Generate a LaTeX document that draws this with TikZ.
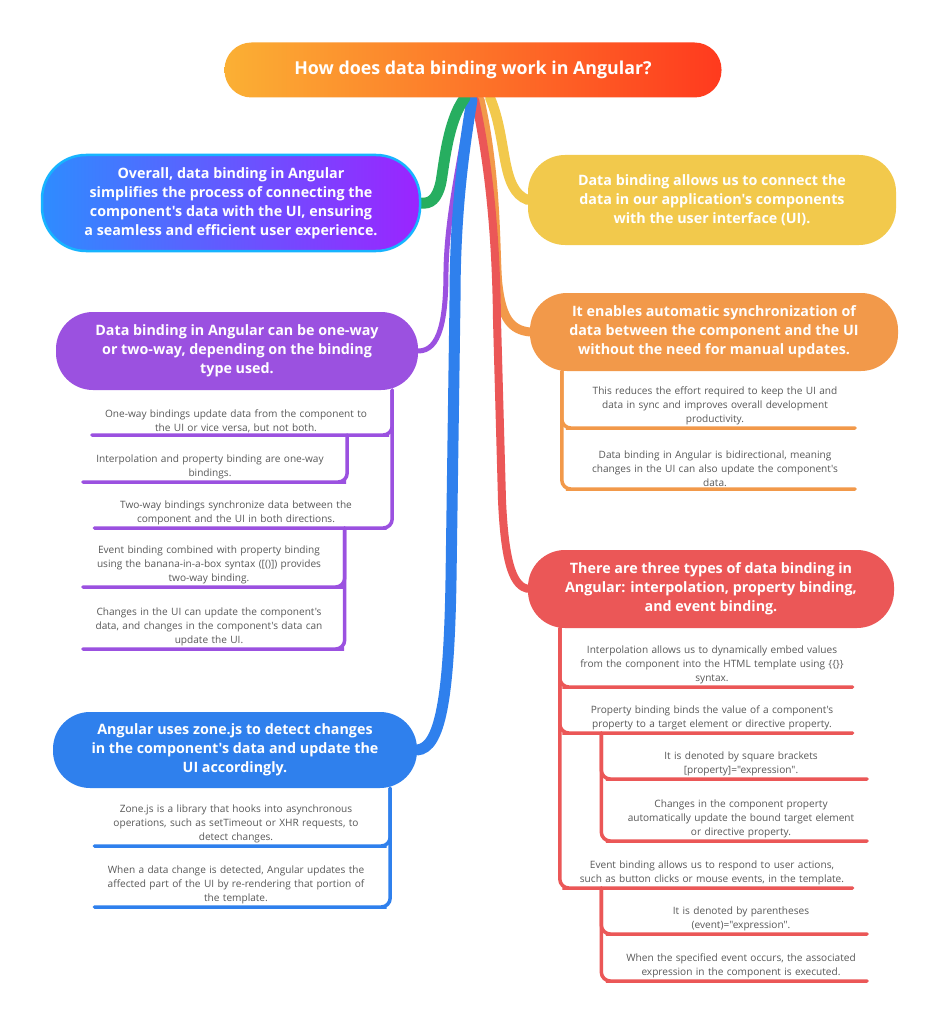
\documentclass[tikz,border=0pt]{standalone}
\usepackage{fontspec}
\setmainfont{Open Sans}[Ligatures=TeXOff]
\usetikzlibrary{calc,backgrounds}

\definecolor{topL}{HTML}{FBB034}
\definecolor{topR}{HTML}{FF3A1E}
\definecolor{sumL}{HTML}{2E8CFF}
\definecolor{sumR}{HTML}{9B24FF}
\definecolor{sumB}{HTML}{17B4FF}
\definecolor{brYellow}{HTML}{F2C94C}
\definecolor{brOrange}{HTML}{F2994A}
\definecolor{brRed}{HTML}{EB5757}
\definecolor{brPurple}{HTML}{9B51E0}
\definecolor{brBlue}{HTML}{2F80ED}
\definecolor{brGreen}{HTML}{27AE60}
\definecolor{leafgray}{HTML}{585858}

\tikzset{
  head/.style={rounded corners=37pt, minimum height=78pt, inner sep=0pt,
    align=center, text=white, font=\bfseries\fontsize{14.3}{19}\selectfont},
  leaf/.style={anchor=south, inner xsep=0pt, inner ysep=2.5pt, align=center,
    text=leafgray, font=\fontsize{10.1}{14}\selectfont},
  twig/.style={line width=3.5pt, rounded corners=9pt, line cap=round},
  branch/.style={line width=10pt, line cap=round},
}

\begin{document}
\begin{tikzpicture}[x=1pt,y=-1pt]
\useasboundingbox (0,0) rectangle (940,1024);

% root and main ideas
\node[head, minimum width=497, minimum height=55, rounded corners=27pt,
  left color=topL, right color=topR, font=\bfseries\fontsize{17.8}{19}\selectfont]
  (root) at (473,70) {How does data binding work in Angular?};
\node[head, minimum width=378, minimum height=96, rounded corners=44pt,
  left color=sumL, right color=sumR, draw=sumB, line width=2.5pt]
  (sum) at (231,203) {Overall, data binding in Angular\\simplifies the process of connecting the\\component's data with the UI, ensuring\\a seamless and efficient user experience.};
\node[head, fill=brYellow, minimum width=368, minimum height=90] (conn) at (712,200)
  {Data binding allows us to connect the\\data in our application's components\\with the user interface (UI).};
\node[head, fill=brOrange, minimum width=368] (sync) at (714,332)
  {It enables automatic synchronization of\\data between the component and the UI\\without the need for manual updates.};
\node[head, fill=brRed, minimum width=366] (types) at (711,589)
  {There are three types of data binding in\\Angular: interpolation, property binding,\\and event binding.};
\node[head, fill=brPurple, minimum width=362] (ways) at (237,351)
  {Data binding in Angular can be one-way\\or two-way, depending on the binding\\type used.};
\node[head, fill=brBlue, minimum width=364, minimum height=76] (zone) at (235,750)
  {Angular uses zone.js to detect changes\\in the component's data and update the\\UI accordingly.};

% leaves
\node[leaf, text width=280] (s1) at (715,428) {This reduces the effort required to keep the UI and\\data in sync and improves overall development\\productivity.};
\node[leaf, text width=280] (s2) at (715,489) {Data binding in Angular is bidirectional, meaning\\changes in the UI can also update the component's\\data.};

\node[leaf, text width=281] (t1) at (712,687) {Interpolation allows us to dynamically embed values\\from the component into the HTML template using \{\{\}\}\\syntax.};
\node[leaf, text width=281] (t2) at (712,733) {Property binding binds the value of a component's\\property to a target element or directive property.};
\node[leaf, text width=252] (t21) at (741,779) {It is denoted by square brackets\\{[}property{]}="expression".};
\node[leaf, text width=252] (t22) at (741,841) {Changes in the component property\\automatically update the bound target element\\or directive property.};
\node[leaf, text width=281] (t3) at (712,888) {Event binding allows us to respond to user actions,\\such as button clicks or mouse events, in the template.};
\node[leaf, text width=252] (t31) at (741,934) {It is denoted by parentheses\\(event)="expression".};
\node[leaf, text width=252] (t32) at (741,981) {When the specified event occurs, the associated\\expression in the component is executed.};

\node[leaf, text width=288] (w1) at (236,435) {One-way bindings update data from the component to\\the UI or vice versa, but not both.};
\node[leaf, text width=254] (w11) at (210,482) {Interpolation and property binding are one-way\\bindings.};
\node[leaf, text width=283] (w2) at (236,528) {Two-way bindings synchronize data between the\\component and the UI in both directions.};
\node[leaf, text width=252] (w21) at (209,587) {Event binding combined with property binding\\using the banana-in-a-box syntax ({[}(){]}) provides\\two-way binding.};
\node[leaf, text width=252] (w22) at (209,649) {Changes in the UI can update the component's\\data, and changes in the component's data can\\update the UI.};

\node[leaf, text width=283] (z1) at (236,846) {Zone.js is a library that hooks into asynchronous\\operations, such as setTimeout or XHR requests, to\\detect changes.};
\node[leaf, text width=283] (z2) at (236,907) {When a data change is detected, Angular updates the\\affected part of the UI by re-rendering that portion of\\the template.};

% trunk points
\coordinate (syncT) at ($(sync.south west)+(32,0)$);
\coordinate (typesT) at ($(types.south west)+(32,0)$);
\coordinate (t2T) at ($(t2.south west)+(30,0)$);
\coordinate (t3T) at ($(t3.south west)+(30,0)$);
\coordinate (waysT) at ($(ways.south east)+(-26,0)$);
\coordinate (w1T) at ($(w1.south east)+(-33,0)$);
\coordinate (w2T) at ($(w2.south east)+(-33,0)$);
\coordinate (zoneT) at ($(zone.south east)+(-27,0)$);

% twigs
\draw[twig, brOrange] (syncT) |- (s1.south west) -- (s1.south east);
\draw[twig, brOrange] (syncT) |- (s2.south west) -- (s2.south east);
\draw[twig, brRed] (typesT) |- (t1.south west) -- (t1.south east);
\draw[twig, brRed] (typesT) |- (t2.south west) -- (t2.south east);
\draw[twig, brRed] (typesT) |- (t3.south west) -- (t3.south east);
\draw[twig, brRed] (t2T) |- (t21.south west) -- (t21.south east);
\draw[twig, brRed] (t2T) |- (t22.south west) -- (t22.south east);
\draw[twig, brRed] (t3T) |- (t31.south west) -- (t31.south east);
\draw[twig, brRed] (t3T) |- (t32.south west) -- (t32.south east);
\draw[twig, brPurple] (waysT) |- (w1.south east) -- (w1.south west);
\draw[twig, brPurple] (waysT) |- (w2.south east) -- (w2.south west);
\draw[twig, brPurple] (w1T) |- (w11.south east) -- (w11.south west);
\draw[twig, brPurple] (w2T) |- (w21.south east) -- (w21.south west);
\draw[twig, brPurple] (w2T) |- (w22.south east) -- (w22.south west);
\draw[twig, brBlue] (zoneT) |- (z1.south east) -- (z1.south west);
\draw[twig, brBlue] (zoneT) |- (z2.south east) -- (z2.south west);

% branches from the root
\begin{scope}[on background layer]
\fill[white] (0,0) rectangle (940,1024);
\draw[branch, brPurple, line width=5pt] ($(root.south)+(-3,2)$)
  .. controls (458,170) and (447,220) .. (446,270)
  .. controls (446,320) and (440,351) .. (ways.east);
\draw[branch, brYellow] ($(root.south)+(17,0)$)
  .. controls (508,140) and (500,190) .. (conn.west);
\draw[branch, brOrange, line width=9pt] ($(root.south)+(7,2)$)
  .. controls (498,180) and (495,260) .. (498,285)
  .. controls (502,320) and (512,330) .. (sync.west);
\draw[branch, brRed, line width=8pt] ($(root.south)+(2,2)$)
  .. controls (488,160) and (496,230) .. (497,320)
  -- (502,500)
  .. controls (505,570) and (515,586) .. (types.west);
\draw[branch, brBlue, line width=11pt] ($(root.south)+(-1,2)$)
  .. controls (462,160) and (455,220) .. (455,300)
  -- (451,580)
  .. controls (449,700) and (440,748) .. (zone.east);
\draw[branch, brGreen, line width=11pt] ($(root.south)+(-8,0)$)
  .. controls (448,120) and (444,165) .. (441,182)
  .. controls (437,200) and (430,204) .. (sum.east);
\end{scope}
\end{tikzpicture}
\end{document}
